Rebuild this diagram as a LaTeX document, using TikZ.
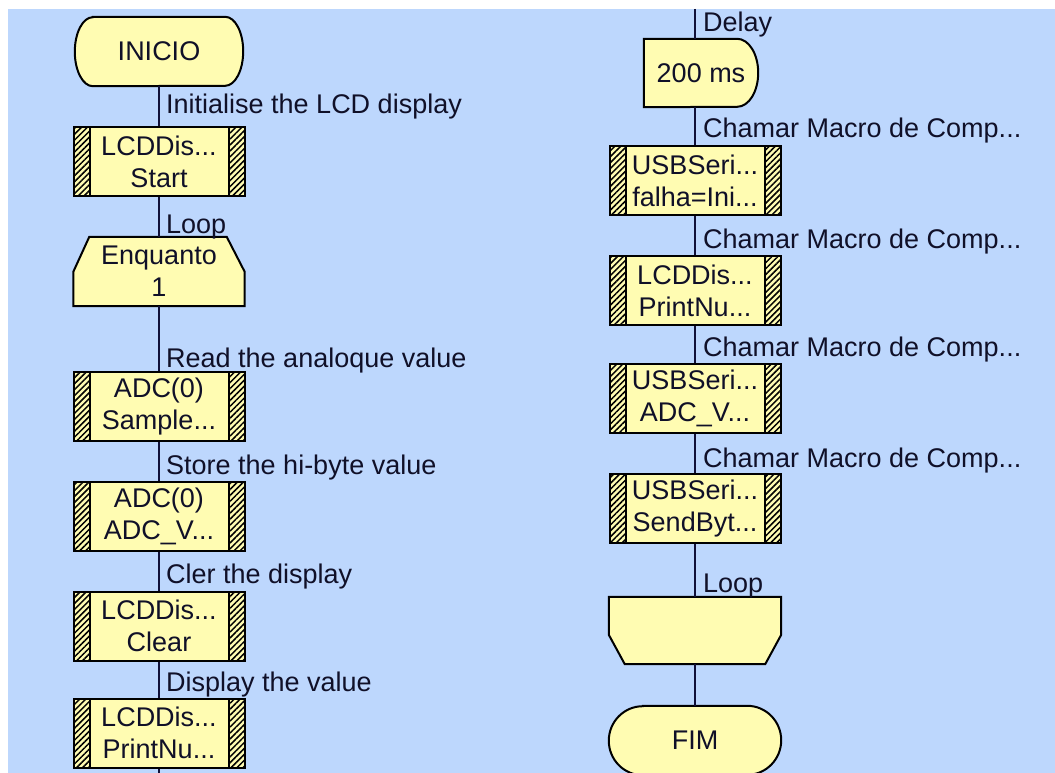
\documentclass[tikz,border=0pt]{standalone}
\usepackage{fontspec}
\setmainfont{Liberation Sans}
\usetikzlibrary{calc,patterns.meta}
\definecolor{bgblue}{RGB}{189,215,253}
\definecolor{boxfill}{RGB}{255,252,178}
\definecolor{linecol}{RGB}{16,16,56}
\definecolor{textcol}{RGB}{16,16,40}
\pgfdeclarelayer{bglayer}
\pgfdeclarelayer{shapelayer}
\pgfsetlayers{bglayer,shapelayer,main}
\newcommand\dfont{\fontsize{27}{32}\selectfont}
\tikzset{
  macrobox/.style={draw=black, line width=2pt, fill=boxfill, minimum width=171pt,
    minimum height=69pt, inner sep=0pt, align=center, font=\dfont, text=textcol,
    path picture={
      \fill[pattern={Lines[angle=45,distance=4.2pt,line width=1.5pt]}, pattern color=black]
        (path picture bounding box.north west) rectangle ([xshift=16pt]path picture bounding box.south west)
        ([xshift=-16pt]path picture bounding box.north east) rectangle (path picture bounding box.south east);
      \draw[black, line width=2pt]
        ([xshift=16pt]path picture bounding box.north west) -- ([xshift=16pt]path picture bounding box.south west)
        ([xshift=-16pt]path picture bounding box.north east) -- ([xshift=-16pt]path picture bounding box.south east);
    }},
  shapenode/.style={draw=none, inner sep=0pt, align=center, font=\dfont, text=textcol},
  shp/.style={draw=black, line width=2pt, fill=boxfill, line join=miter},
  conn/.style={draw=linecol, line width=2pt},
  lbl/.style={anchor=base west, inner sep=0pt, font=\dfont, text=textcol}
}
\begin{document}
\begin{tikzpicture}[x=1pt,y=-1pt]
\useasboundingbox (0,0) rectangle (1055,773);
\begin{pgfonlayer}{bglayer}
  \fill[white] (0,0) rectangle (1055,773);
  \fill[bgblue] (8,9) rectangle (1055,773);
\end{pgfonlayer}

% left column
\node[shapenode, minimum width=168pt, minimum height=69pt] (inicio) at (159,51.5) {INICIO};
\node[macrobox] (lcdA) at (159,161.5) {LCDDis...\\Start};
\node[shapenode, minimum width=171pt, minimum height=69pt] (enq) at (159,271.5) {Enquanto\\1};
\node[macrobox] (adcA) at (159,406.5) {ADC(0)\\Sample...};
\node[macrobox] (adcB) at (159,516) {ADC(0)\\ADC\_V...};
\node[macrobox] (lcdB) at (159,626) {LCDDis...\\Clear};
\node[macrobox] (lcdC) at (159,733) {LCDDis...\\PrintNu...};
\coordinate (endL) at (159,773);

% right column
\coordinate (topR) at (695,9);
\node[shapenode, minimum width=114pt, minimum height=68pt] (delay) at (701,73) {200 ms};
\node[macrobox] (usbA) at (695,180.5) {USBSeri...\\falha=Ini...};
\node[macrobox] (lcdD) at (695,290.5) {LCDDis...\\PrintNu...};
\node[macrobox] (usbB) at (695,398) {USBSeri...\\ADC\_V...};
\node[macrobox] (usbC) at (695,508.5) {USBSeri...\\SendByt...};
\node[shapenode, minimum width=172pt, minimum height=67pt] (loopend) at (695,630.5) {};
\node[shapenode, minimum width=172pt, minimum height=69pt] (fim) at (695,740.5) {FIM};

\begin{pgfonlayer}{shapelayer}
  \path[shp] ($(inicio.north west)+(18,0)$) -- ($(inicio.north east)+(-18,0)$)
    arc[start angle=90,end angle=-90,x radius=18pt,y radius=34.5pt]
    -- ($(inicio.south west)+(18,0)$)
    arc[start angle=270,end angle=90,x radius=18pt,y radius=34.5pt] -- cycle;
  \path[shp] ($(enq.north west)+(16,0)$) -- ($(enq.north east)+(-18,0)$)
    -- ($(enq.north east)+(0,35)$) -- (enq.south east) -- (enq.south west)
    -- ($(enq.north west)+(0,35)$) -- cycle;
  \path[shp] (delay.north west) -- ($(delay.north east)+(-21,0)$)
    arc[start angle=90,end angle=-90,x radius=21pt,y radius=34pt]
    -- (delay.south west) -- cycle;
  \path[shp] (loopend.north west) -- (loopend.north east) -- ($(loopend.north east)+(0,38)$)
    -- ($(loopend.south east)+(-16,0)$) -- ($(loopend.south west)+(16,0)$)
    -- ($(loopend.north west)+(0,38)$) -- cycle;
  \path[shp] ($(fim.north west)+(34,0)$) -- ($(fim.north east)+(-34,0)$)
    arc[start angle=90,end angle=-90,x radius=34pt,y radius=34.5pt]
    -- ($(fim.south west)+(34,0)$)
    arc[start angle=270,end angle=90,x radius=34pt,y radius=34.5pt] -- cycle;
\end{pgfonlayer}

% connectors
\draw[conn] (inicio.south) -- (lcdA.north);
\draw[conn] (lcdA.south) -- (enq.north);
\draw[conn] (enq.south) -- (adcA.north);
\draw[conn] (adcA.south) -- (adcB.north);
\draw[conn] (adcB.south) -- (lcdB.north);
\draw[conn] (lcdB.south) -- (lcdC.north);
\draw[conn] (lcdC.south) -- (endL);
\draw[conn] (topR) -- (topR |- delay.north);
\draw[conn] (topR |- delay.south) -- (usbA.north);
\draw[conn] (usbA.south) -- (lcdD.north);
\draw[conn] (lcdD.south) -- (usbB.north);
\draw[conn] (usbB.south) -- (usbC.north);
\draw[conn] (usbC.south) -- (loopend.north);
\draw[conn] (loopend.south) -- (fim.north);

% labels
\node[lbl] (t1) at (166,114) {Initialise the LCD display};
\node[lbl] (t2) at (166,233) {Loop};
\node[lbl] (t3) at (166,367) {Read the analoque value};
\node[lbl] (t4) at (166,474) {Store the hi-byte value};
\node[lbl] (t5) at (166,583) {Cler the display};
\node[lbl] (t6) at (166,691) {Display the value};
\node[lbl] (r1) at (703,32) {Delay};
\node[lbl] (r2) at (703,138) {Chamar Macro de Comp...};
\node[lbl] (r3) at (703,248) {Chamar Macro de Comp...};
\node[lbl] (r4) at (703,356) {Chamar Macro de Comp...};
\node[lbl] (r5) at (703,467) {Chamar Macro de Comp...};
\node[lbl] (r6) at (703,592) {Loop};
\end{tikzpicture}
\end{document}
